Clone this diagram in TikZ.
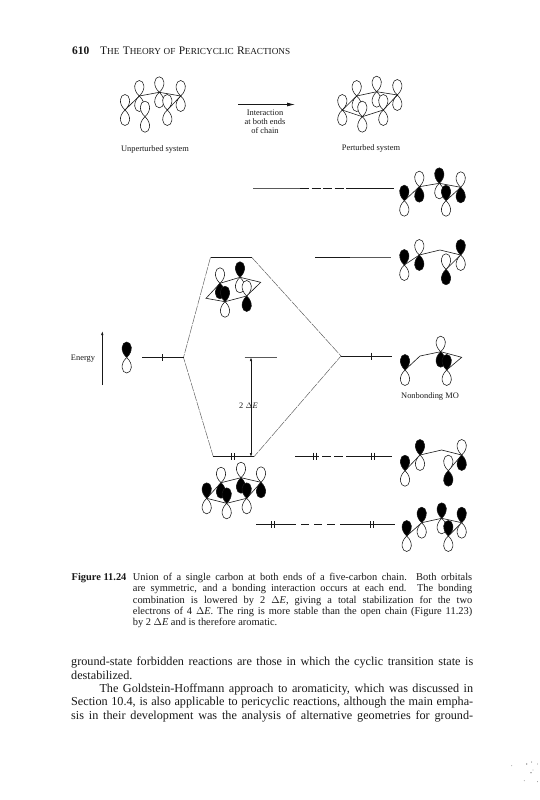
\documentclass[tikz,border=0pt]{standalone}
\usepackage{fontspec}
\usetikzlibrary{arrows.meta}
\setmainfont{Liberation Serif}
\definecolor{ink}{gray}{0.1}
\definecolor{thin}{gray}{0.35}
\tikzset{
  x=1pt,y=-1pt,
  lobeopen/.style={draw=ink,line width=.55pt,fill=white},
  lobefill/.style={draw=ink,line width=.55pt,fill=black},
  bond/.style={draw=ink,line width=.6pt},
  level/.style={draw=ink,line width=.8pt},
  corr/.style={draw=thin,line width=.45pt,dash pattern=on 9pt off 1pt},
  caption/.style={inner sep=0,anchor=base west,font=\fontsize{10.4}{12}\selectfont,text=ink},
  bodytext/.style={inner sep=0,anchor=base west,font=\fontsize{12.2}{14}\selectfont,text=ink},
  small/.style={inner sep=0,font=\fontsize{8.4}{9}\selectfont,text=ink},
  speck/.style={fill=black!70,draw=none}
}
\newcommand{\lobeU}[3]{\path[#3,shift={(#1,#2)}] (0,0) .. controls (-7.2,-6.5) and (-5,-15.5) .. (0,-15.5) .. controls (5,-15.5) and (7.2,-6.5) .. (0,0);}
\newcommand{\lobeD}[3]{\path[#3,shift={(#1,#2)}] (0,0) .. controls (-7.2,6.5) and (-5,15.5) .. (0,15.5) .. controls (5,15.5) and (7.2,6.5) .. (0,0);}
\newcommand{\orbUD}[4]{\lobeU{#1}{#2}{#3}\lobeD{#1}{#2}{#4}}
\newcommand{\tick}[2]{\draw[line width=.6pt,draw=ink] (#1,#2-3.5) -- (#1,#2+3.5);}
\newcommand{\lineW}[2]{\makebox[#1pt][s]{#2}}
\newcommand{\dE}{\textup{$\Delta$}\textit{E}}
\begin{document}
\begin{tikzpicture}
\useasboundingbox[fill=white] (0,0) rectangle (539,800);
% header
\node[inner sep=0,anchor=west,font=\bfseries\fontsize{11.5}{13}\selectfont,text=ink] (pg) at (72,51) {610};
\node[inner sep=0,anchor=west,font=\fontsize{11.5}{13}\selectfont,text=ink] (hd) at (100,51) {\lineW{190}{T{\fontsize{9.2}{10}\selectfont HE} T{\fontsize{9.2}{10}\selectfont HEORY OF} P{\fontsize{9.2}{10}\selectfont ERICYCLIC} R{\fontsize{9.2}{10}\selectfont EACTIONS}}};
% top-left molecule
\orbUD{125}{110}{lobeopen}{lobeopen}
\orbUD{139.3}{96}{lobeopen}{lobeopen}
\orbUD{145}{116.7}{lobeopen}{lobeopen}
\orbUD{159.3}{92.3}{lobeopen}{lobeopen}
\orbUD{167.3}{110}{lobeopen}{lobeopen}
\orbUD{180.7}{96}{lobeopen}{lobeopen}
\draw[bond] (125,110)--(139.3,96)--(159.3,92.3)--(180.7,96)--(167.3,110);
\node[small] (unp) at (155,149.3) {Unperturbed system};
% arrow
\coordinate (ia) at (238,104.5); \coordinate (ib) at (295,104.5);
\draw[line width=.8pt,draw=ink,-{Latex[length=8pt,width=4pt]}] (ia)--(ib);
\node[small,align=center] (int) at (265,121.7) {Interaction\\[-.3pt]at both ends\\[-.3pt]of chain};
% top-right molecule
\orbUD{342.3}{110}{lobeopen}{lobeopen}
\orbUD{356.7}{96}{lobeopen}{lobeopen}
\orbUD{362.3}{116.7}{lobeopen}{lobeopen}
\orbUD{376.7}{91.7}{lobeopen}{lobeopen}
\orbUD{383.3}{110}{lobeopen}{lobeopen}
\orbUD{397.3}{95}{lobeopen}{lobeopen}
\draw[bond] (342.3,110)--(356.7,96)--(376.7,91.7)--(397.3,95)--(383.3,110)--(362.3,116.7)--cycle;
\node[small] (per) at (371,148) {Perturbed system};
% Energy
\node[small] (en) at (83,359) {Energy};
\coordinate (ea) at (102.3,385); \coordinate (eb) at (102.3,331);
\draw[line width=.7pt,draw=ink,-{Latex[length=4pt,width=2.5pt]}] (ea)--(eb);
\orbUD{126.7}{357.5}{lobefill}{lobeopen}
% correlation lines
\coordinate (sL) at (183.5,357.5);
\coordinate (upL) at (210.5,257.3); \coordinate (upR) at (251.7,257.3);
\coordinate (loL) at (213.3,456.7); \coordinate (loR) at (254,456.7);
\coordinate (vR) at (341,356);
\draw[corr] (upL)--(sL)--(loL);
\draw[corr] (upR)--(vR)--(loR);
% levels
\coordinate (s0) at (142,357.5); \draw[level] (s0)--(sL); \tick{162}{357.5}
\draw[level] (upL)--(upR);
\draw[level] (loL)--(loR); \tick{231.5}{456.7}\tick{234.5}{456.7}
\coordinate (r1) at (392,356); \draw[level] (vR)--(r1); \tick{371.5}{356}
% top levels (part dashed)
\coordinate (a1) at (253,188); \coordinate (a2) at (300,188); \coordinate (a3) at (350,188); \coordinate (a4) at (394,188);
\draw[level,draw=thin,line width=.6pt] (a1)--(a2); \draw[level,dash pattern=on 9pt off 2.5pt] (a2)--(a3); \draw[level] (a3)--(a4);
\coordinate (b1) at (315,257.3); \coordinate (b2) at (391,257.3);
\draw[level] (b1)--(350,257.3); \draw[level,draw=thin] (350,257.3)--(b2);
\coordinate (c1) at (295,456); \coordinate (c2) at (392,456);
\draw[level,dash pattern=on 24pt off 3pt on 9pt off 3pt on 9pt off 3pt on 60pt] (c1)--(c2); \tick{313.5}{456}\tick{316.5}{456}\tick{371.5}{456}\tick{374.5}{456}
\coordinate (d1) at (256,524.5); \coordinate (d2) at (395,524.5);
\draw[level,dash pattern=on 40pt off 5pt on 8pt off 5pt on 8pt off 5pt on 8pt off 5pt on 60pt] (d1)--(d2); \tick{271.5}{524.5}\tick{274.5}{524.5}\tick{370.5}{524.5}\tick{373.5}{524.5}
% 2 Delta E
\coordinate (gapT) at (251,357.5); \coordinate (gapB) at (251,456.7);
\coordinate (g1) at (244.7,357.5); \coordinate (g2) at (277.3,357.5);
\draw[line width=.45pt,draw=thin] (g1)--(g2);
\draw[line width=.5pt,draw=ink,{Latex[length=3.5pt,width=2.5pt]}-{Latex[length=3.5pt,width=2.5pt]}] (gapT)--(gapB);
\node[small,inner sep=0,anchor=center] (de) at (248.5,405.7) {2 \dE};
% upper centre MO
\draw[bond] (206,298.3)--(220,283.3)--(240,277.3)--(260.7,282.3)--(246.7,296)--(225,301.7)--cycle;
\lobeU{220}{283.3}{lobeopen} \lobeD{240}{277.3}{lobeopen} \lobeU{246.7}{296}{lobeopen}
\lobeD{225}{301.7}{lobeopen}
\lobeD{220}{283.3}{lobefill} \lobeU{225}{301.7}{lobefill} \lobeU{240}{277.3}{lobefill} \lobeD{246.7}{296}{lobefill}
% lower centre MO
\draw[bond] (206.7,498.3)--(221,482.7)--(241,477.7)--(261,482.3)--(246.7,498.3)--(226.7,503.3)--cycle;
\lobeU{221}{482.7}{lobeopen}\lobeU{241}{477.7}{lobeopen}\lobeU{261}{482.3}{lobeopen}
\lobeD{206.7}{498.3}{lobeopen}\lobeD{226.7}{503.3}{lobeopen}\lobeD{246.7}{498.3}{lobeopen}
\lobeU{206.7}{498.3}{lobefill}\lobeD{221}{482.7}{lobefill}\lobeU{226.7}{503.3}{lobefill}\lobeD{241}{477.7}{lobefill}\lobeU{246.7}{498.3}{lobefill}\lobeD{261}{482.3}{lobefill}
% MO6
\draw[bond] (404.3,200.7)--(419.3,186.7)--(439.3,183.3)--(460.7,187.3)--(446,200.7);
\orbUD{404.3}{200.7}{lobefill}{lobeopen}
\orbUD{419.3}{186.7}{lobeopen}{lobefill}
\orbUD{439.3}{183.3}{lobefill}{lobeopen}
\orbUD{446}{200.7}{lobefill}{lobeopen}
\orbUD{460.7}{187.3}{lobeopen}{lobefill}
% MO5
\draw[bond] (404.3,265)--(419.3,255)--(440,250)--(460.7,255)--(446,269.3);
\orbUD{404.3}{265}{lobefill}{lobeopen}
\orbUD{419.3}{255}{lobeopen}{lobefill}
\orbUD{446}{269.3}{lobeopen}{lobefill}
\orbUD{460.7}{255}{lobefill}{lobeopen}
% MO4
\draw[bond] (405,370)--(420,356)--(440.7,351.7)--(461.7,357.3)--(446.7,370);
\orbUD{405}{370}{lobefill}{lobeopen}
\orbUD{440.7}{351.7}{lobeopen}{lobefill}
\orbUD{446.7}{370}{lobefill}{lobeopen}
\node[small] (nb) at (430,396) {Nonbonding MO};
% MO3
\draw[bond] (405,470.7)--(420,455)--(441.7,450)--(461.7,455)--(448.3,470.7);
\orbUD{405}{470.7}{lobefill}{lobeopen}
\orbUD{420}{455}{lobefill}{lobeopen}
\orbUD{448.3}{470.7}{lobeopen}{lobefill}
\orbUD{461.7}{455}{lobeopen}{lobefill}
% MO2
\draw[bond] (406.7,536)--(421.7,522.7)--(441.7,518.3)--(461.7,522.7)--(448.3,536);
\orbUD{406.7}{536}{lobefill}{lobeopen}
\orbUD{421.7}{522.7}{lobefill}{lobeopen}
\orbUD{441.7}{518.3}{lobefill}{lobeopen}
\orbUD{448.3}{536}{lobefill}{lobeopen}
\orbUD{461.7}{522.7}{lobefill}{lobeopen}
% caption
\node[caption] (c1t) at (71.5,580.3) {\textbf{Figure 11.24}};
\node[caption] (c1u) at (132.7,580.3) {\lineW{339.3}{Union of a single carbon at both ends of a five-carbon chain. Both orbitals}};
\node[caption] (c2t) at (132.7,591.5) {\lineW{339.3}{are symmetric, and a bonding interaction occurs at each end. The bonding}};
\node[caption] (c3t) at (132.7,603) {\lineW{339.3}{combination is lowered by 2 \dE, giving a total stabilization for the two}};
\node[caption] (c4t) at (132.7,614.3) {\lineW{339.3}{electrons of 4 \dE. The ring is more stable than the open chain (Figure 11.23)}};
\node[caption] (c5t) at (132.7,625.5) {by 2 \dE{} and is therefore aromatic.};
% body
\node[bodytext] (t1) at (71,665.5) {\lineW{402}{ground-state forbidden reactions are those in which the cyclic transition state is}};
\node[bodytext] (t2) at (71,679) {destabilized.};
\node[bodytext] (t3) at (99.3,692.5) {\lineW{373.7}{The Goldstein-Hoffmann approach to aromaticity, which was discussed in}};
\node[bodytext] (t4) at (71,705.8) {\lineW{402}{Section 10.4, is also applicable to pericyclic reactions, although the main empha-}};
\node[bodytext] (t5) at (71,719) {\lineW{402}{sis in their development was the analysis of alternative geometries for ground-}};
% specks at the page corner
\foreach \sx/\sy/\sr in {526.7/764/.6,531.7/762/.5,537.5/764/.4,511.7/765.7/.4,531/772.7/.7,533/770/.4,524.3/780.7/.4,537.5/781.7/.4}
  \fill[speck] (\sx,\sy) circle (\sr);
\end{tikzpicture}
\end{document}
